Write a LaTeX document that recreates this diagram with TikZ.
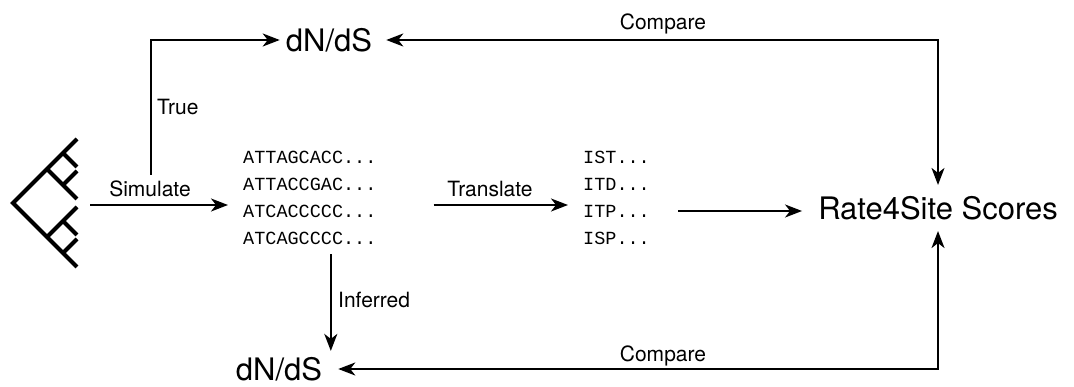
\documentclass[tikz,border=0pt]{standalone}
\usepackage{fontspec}
\setmainfont{TeX Gyre Heros}
\newfontfamily\courfont{Liberation Mono}
\usetikzlibrary{arrows.meta,calc}
\begin{document}
\begin{tikzpicture}[x=1pt,y=-1pt,
  conn/.style={line width=2pt},
  arr/.style={conn,-{Stealth[length=17pt,width=13pt,inset=5pt]}},
  darr/.style={conn,{Stealth[length=17pt,width=13pt,inset=5pt]}-{Stealth[length=17pt,width=13pt,inset=5pt]}},
  big/.style={font=\fontsize{31}{36}\selectfont, inner xsep=6pt, inner ysep=6pt},
  lbl/.style={font=\fontsize{21}{24}\selectfont, inner sep=0pt},
  seq/.style={font=\courfont\fontsize{18.5}{27}\selectfont, align=left, inner sep=0pt, anchor=west},
  treeline/.style={line width=4pt}]
\useasboundingbox (0,0) rectangle (1074,387);
% tree
\draw[treeline, line join=miter] (77,139) -- (13,203) -- (77,267);
\draw[treeline] (47,169) -- (77,199);
\draw[treeline] (63,185) -- (77,171);
\draw[treeline] (63,153) -- (77,167);
\draw[treeline] (47,237) -- (77,207);
\draw[treeline] (63,221) -- (77,235);
\draw[treeline] (63,253) -- (77,239);
\coordinate (treeR) at (90,205);
\coordinate (tstart) at (151,175);
% nodes
\node[big] (top) at (329,40) {dN/dS};
\node[big] (bot) at (279,369) {dN/dS};
\node[big, inner ysep=11pt] (r4s) at (938,208) {Rate4Site Scores};
\node[seq] (dna) at (243,197.5) {ATTAGCACC...\\ATTACCGAC...\\ATCACCCCC...\\ATCAGCCCC...};
\node[seq] (prot) at (583,197.5) {IST...\\ITD...\\ITP...\\ISP...};
% connectors
\draw[arr, shorten >=15pt] (treeR) -- (treeR -| dna.west);
\node[lbl] (simlbl) at (150,189) {Simulate};
\draw[arr] ($(dna.east)+(57,7.5)$) -- ($(prot.west)+(-15,7.5)$);
\node[lbl] (trlbl) at (490,189) {Translate};
\coordinate (itp) at ($(prot.east)+(28,13.5)$);
\draw[arr, shorten >=10pt] (itp) -- (itp -| r4s.west);
\draw[arr] (tstart) |- (top.west);
\node[lbl, anchor=west] (truelbl) at (157,107) {True};
\draw[darr, shorten <=8pt] (top.east) -| (r4s.north);
\node[lbl] (cmp1) at (663,24) {Compare};
\coordinate (infstart) at ($(dna.south)+(21,10)$);
\draw[arr] (infstart) -- (infstart |- bot.north);
\node[lbl, anchor=west] (inflbl) at (338,300) {Inferred};
\coordinate (botline) at (940,372);
\draw[darr, shorten >=10pt] (r4s.south) |- (bot.east);
\node[lbl] (cmp2) at (663,356) {Compare};
\end{tikzpicture}
\end{document}
